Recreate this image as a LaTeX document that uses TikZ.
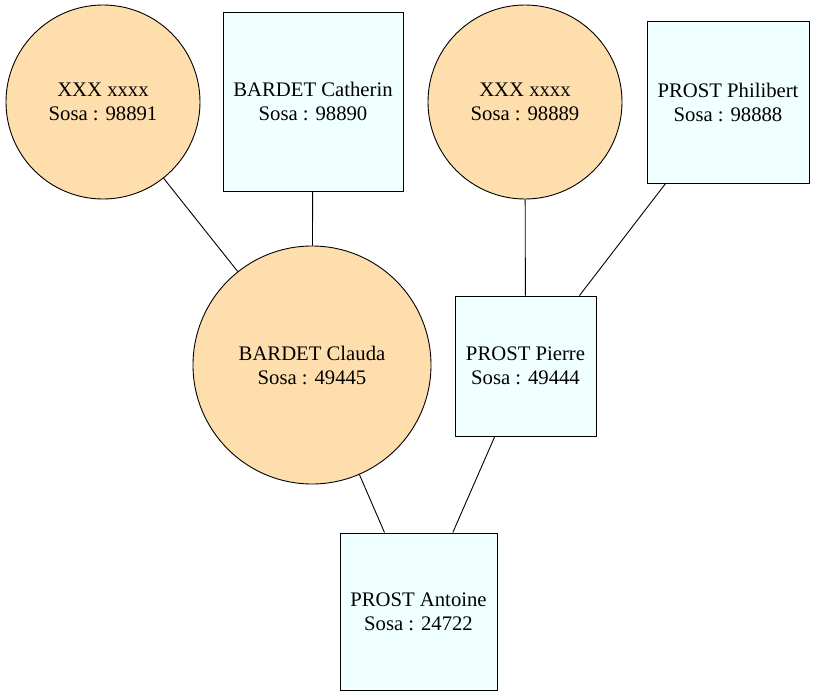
\documentclass[tikz,border=0pt]{standalone}
\usepackage{fontspec}
\setmainfont{Liberation Serif}
\definecolor{navajo}{HTML}{FFDEAD}
\definecolor{azurec}{HTML}{F0FFFF}
\begin{document}
\begin{tikzpicture}[x=1pt,y=-1pt,
  person/.style={draw=black,line width=0.9pt,inner sep=0pt,align=center,font=\fontsize{20.7}{24}\selectfont},
  fem/.style={person,circle,fill=navajo},
  masc/.style={person,rectangle,fill=azurec},
  link/.style={draw=black,line width=0.9pt}]
\useasboundingbox (0,0) rectangle (814,696);
\node[fem,minimum size=194pt] (c1) at (103,102) {XXX xxxx\\Sosa : 98891};
\node[masc,minimum width=180pt,minimum height=179pt] (cat) at (313,101.5) {BARDET Catherin\\Sosa : 98890};
\node[fem,minimum size=194pt] (c2) at (525,102) {XXX xxxx\\Sosa : 98889};
\node[masc,minimum width=162pt,minimum height=162pt] (phi) at (728,102) {PROST Philibert\\Sosa : 98888};
\node[fem,minimum size=238pt] (cla) at (312,365) {BARDET Clauda\\Sosa : 49445};
\node[masc,minimum width=141pt,minimum height=140pt] (pie) at (525.5,366) {PROST Pierre\\Sosa : 49444};
\node[masc,minimum width=157pt,minimum height=157pt] (ant) at (418.5,611.5) {PROST Antoine\\Sosa : 24722};
\draw[link] (c1) -- (cla);
\draw[link] (cat) -- (cla);
\draw[link] (c2) -- (pie);
\draw[link] (phi) -- (pie);
\draw[link] (cla) -- (ant);
\draw[link] (pie) -- (ant);
\end{tikzpicture}
\end{document}
